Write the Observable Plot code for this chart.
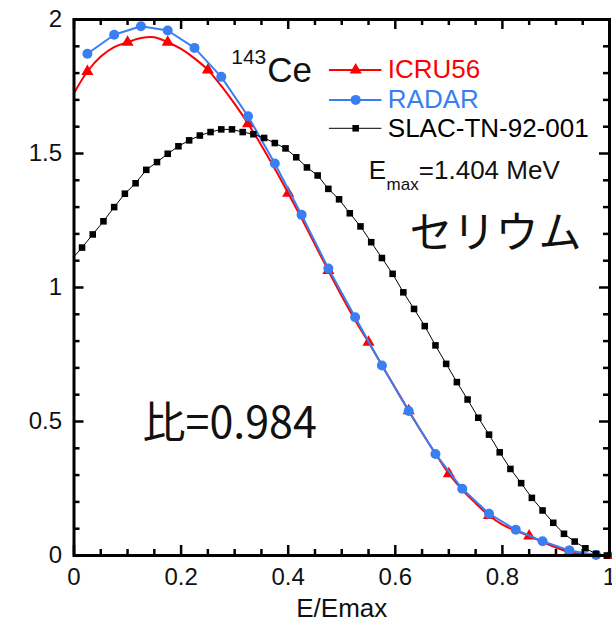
<!DOCTYPE html>
<html><head><meta charset="utf-8">
<script src="https://cdn.jsdelivr.net/npm/d3@7"></script>
<script src="https://cdn.jsdelivr.net/npm/@observablehq/plot@0.6"></script>
<style>html,body{margin:0;padding:0;background:#fff;overflow:hidden}svg{display:block}</style>
</head><body><div id="chart"></div>
<script>
// ICRU56 (smooth curve; markers on every 3rd point)
const icruX = [0,0.025,0.05,0.075,0.1,0.125,0.15,0.175,0.2,0.225,0.25,0.275,0.3,0.325,0.35,0.375,0.4,0.425,0.45,0.475,0.5,0.525,0.55,0.575,0.6,0.625,0.65,0.675,0.7,0.725,0.75,0.775,0.8,0.825,0.85,0.875,0.9,0.925,0.95,0.975,1.0];
const icruY = [1.725,1.806,1.862,1.897,1.915,1.931,1.934,1.915,1.890,1.855,1.812,1.752,1.685,1.611,1.530,1.443,1.352,1.258,1.160,1.063,0.968,0.878,0.796,0.710,0.625,0.540,0.458,0.380,0.305,0.245,0.195,0.149,0.115,0.092,0.073,0.050,0.030,0.013,0.004,0.001,0.000];
// RADAR
const radarX = [0.025,0.075,0.125,0.175,0.225,0.275,0.325,0.375,0.425,0.475,0.525,0.575,0.625,0.675,0.725,0.775,0.825,0.875,0.925,0.975];
const radarY = [1.872,1.943,1.975,1.959,1.894,1.786,1.639,1.463,1.271,1.071,0.889,0.709,0.539,0.379,0.249,0.156,0.096,0.053,0.019,0.002];
// SLAC-TN-92-001 (first entry is the line start at the axis, without marker)
const slacX = [0,0.015,0.035,0.055,0.075,0.095,0.115,0.135,0.155,0.175,0.195,0.215,0.235,0.255,0.275,0.295,0.315,0.335,0.355,0.375,0.395,0.415,0.435,0.455,0.475,0.495,0.515,0.535,0.555,0.575,0.595,0.615,0.635,0.655,0.675,0.695,0.715,0.735,0.755,0.775,0.795,0.815,0.835,0.855,0.875,0.895,0.915,0.935,0.955,0.975,0.995];
const slacY = [1.115,1.149,1.198,1.247,1.300,1.350,1.389,1.439,1.468,1.499,1.527,1.549,1.567,1.580,1.590,1.590,1.580,1.572,1.558,1.539,1.519,1.486,1.448,1.418,1.368,1.329,1.277,1.228,1.169,1.110,1.051,0.982,0.920,0.856,0.784,0.715,0.647,0.582,0.514,0.451,0.385,0.323,0.270,0.215,0.168,0.122,0.081,0.052,0.027,0.006,0.000];

const seriesNames = ["ICRU56","RADAR","SLAC-TN-92-001"];
const seriesColors = ["#ff0000","#3a7ff2","#000000"];
const seriesSymbols = ["triangle","circle","square"];

const xMajor = [0,0.2,0.4,0.6,0.8,1];
const xMajorLabels = ["0","0.2","0.4","0.6","0.8","1"];
const xMinor = [0.05,0.1,0.15,0.25,0.3,0.35,0.45,0.5,0.55,0.65,0.7,0.75,0.85,0.9,0.95];
const yMajor = [0,0.5,1,1.5,2];
const yMajorLabels = ["0","0.5","1","1.5","2"];
const yMinor = [0.1,0.2,0.3,0.4,0.6,0.7,0.8,0.9,1.1,1.2,1.3,1.4,1.6,1.7,1.8,1.9];

const FONT = "'Liberation Sans', Arial, sans-serif";
const CJK = "'Noto Sans CJK JP', sans-serif";

const W = 612, H = 622, ML = 73.5, MR = 3, MT = 19, MB = 67;
const plotW = W - ML - MR, plotH = H - MT - MB;
const MAJOR = 10, MINOR = 6;
const SYM_R = [4.5, 5, 3.7];

const icruIdx = d3.range(icruX.length);
const icruMarkIdx = icruIdx.filter(i => i % 3 === 1);
const radarIdx = d3.range(radarX.length);
const slacIdx = d3.range(slacX.length);
const slacMarkIdx = slacIdx.slice(1);

// inward ticks on all four sides (rules shrunk by insets to tick length)
const tk = {stroke: "#000", strokeWidth: 2.5};
const ticks = [
  Plot.ruleX(xMajor, {x: d => d, insetTop: plotH - MAJOR, ...tk}),
  Plot.ruleX(xMinor, {x: d => d, insetTop: plotH - MINOR, ...tk}),
  Plot.ruleX(xMajor, {x: d => d, insetBottom: plotH - MAJOR, ...tk}),
  Plot.ruleX(xMinor, {x: d => d, insetBottom: plotH - MINOR, ...tk}),
  Plot.ruleY(yMajor, {y: d => d, insetRight: plotW - MAJOR, ...tk}),
  Plot.ruleY(yMinor, {y: d => d, insetRight: plotW - MINOR, ...tk}),
  Plot.ruleY(yMajor, {y: d => d, insetLeft: plotW - MAJOR, ...tk}),
  Plot.ruleY(yMinor, {y: d => d, insetLeft: plotW - MINOR, ...tk}),
  Plot.axisX(xMajor, {anchor: "bottom", tickSize: 0, tickPadding: 12, fontSize: 24, fontFamily: FONT, fill: "#111", tickFormat: (d, i) => xMajorLabels[i], label: null}),
  Plot.axisY(yMajor, {anchor: "left", tickSize: 0, tickPadding: 12, fontSize: 24, fontFamily: FONT, fill: "#111", tickFormat: (d, i) => yMajorLabels[i], label: null}),
  Plot.frame({stroke: "#000", strokeWidth: 3})
];

// legend layout (data coordinates)
const legendRowY = [1.812, 1.700, 1.594];
const legendLine = [0.477, 0.575];
const legendMarkX = 0.526;
const legendTextX = 0.586;
const legendMarks = [];
seriesNames.forEach((name, i) => {
  legendMarks.push(Plot.ruleY([legendRowY[i]], {y: d => d, x1: legendLine[0], x2: legendLine[1], stroke: seriesColors[i], strokeWidth: i === 2 ? 1 : 2}));
  legendMarks.push(Plot.dot([legendRowY[i]], {x: legendMarkX, y: d => d, symbol: seriesSymbols[i], r: SYM_R[i], fill: seriesColors[i], stroke: "none"}));
  legendMarks.push(Plot.text([name], {x: legendTextX, y: legendRowY[i], text: d => d, textAnchor: "start", lineAnchor: "middle", fontSize: 26, fontFamily: FONT, fill: seriesColors[i]}));
});

const chart = Plot.plot({
  width: W,
  height: H,
  marginLeft: ML,
  marginRight: MR,
  marginTop: MT,
  marginBottom: MB,
  style: {fontFamily: FONT, background: "#fff"},
  x: {domain: [0, 1]},
  y: {domain: [0, 2]},
  marks: [
    Plot.line(icruIdx, {x: i => icruX[i], y: i => icruY[i], stroke: seriesColors[0], strokeWidth: 2, curve: "catmull-rom"}),
    Plot.dot(icruMarkIdx, {x: i => icruX[i], y: i => icruY[i], symbol: "triangle", r: SYM_R[0], fill: seriesColors[0], stroke: "none"}),
    Plot.line(radarIdx, {x: i => radarX[i], y: i => radarY[i], stroke: seriesColors[1], strokeWidth: 2}),
    Plot.dot(radarIdx, {x: i => radarX[i], y: i => radarY[i], symbol: "circle", r: SYM_R[1], fill: seriesColors[1], stroke: "none"}),
    Plot.line(slacIdx, {x: i => slacX[i], y: i => slacY[i], stroke: "#000", strokeWidth: 1}),
    Plot.dot(slacMarkIdx, {x: i => slacX[i], y: i => slacY[i], symbol: "square", r: SYM_R[2], fill: "#000", stroke: "none"}),
    ...ticks,
    ...legendMarks,
    Plot.text(["143"], {x: 0.2936, y: 1.834, text: d => d, textAnchor: "start", lineAnchor: "bottom", fontSize: 21, fontFamily: FONT, fill: "#111"}),
    Plot.text(["Ce"], {x: 0.3608, y: 1.766, text: d => d, textAnchor: "start", lineAnchor: "bottom", fontSize: 35, fontFamily: FONT, fill: "#111"}),
    Plot.text(["E"], {x: 0.5505, y: 1.4056, text: d => d, textAnchor: "start", lineAnchor: "bottom", fontSize: 26, fontFamily: FONT, fill: "#111"}),
    Plot.text(["max"], {x: 0.5836, y: 1.362, text: d => d, textAnchor: "start", lineAnchor: "bottom", fontSize: 17, fontFamily: FONT, fill: "#111"}),
    Plot.text(["=1.404 MeV"], {x: 0.6439, y: 1.4056, text: d => d, textAnchor: "start", lineAnchor: "bottom", fontSize: 26, fontFamily: FONT, fill: "#111"}),
    Plot.text(["セリウム"], {x: 0.6265, y: 1.149, text: d => d, textAnchor: "start", lineAnchor: "bottom", fontSize: 43, fontFamily: CJK, fill: "#111"}),
    Plot.text(["比=0.984"], {x: 0.128, y: 0.44, text: d => d, textAnchor: "start", lineAnchor: "bottom", fontSize: 43, fontFamily: CJK, fill: "#111"}),
    Plot.text(["E/Emax"], {frameAnchor: "bottom", dy: 61, text: d => d, lineAnchor: "bottom", fontSize: 26, fontFamily: FONT, fill: "#111"})
  ]
});
document.getElementById("chart").appendChild(chart);
</script>
</body></html>
